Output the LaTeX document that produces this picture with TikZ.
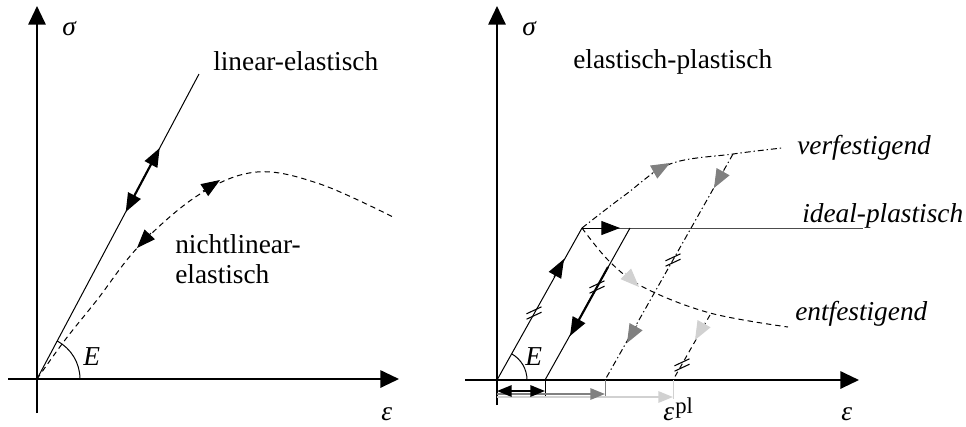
\documentclass[tikz,border=0pt]{standalone}
\usepackage{fontspec}
\setmainfont{Liberation Serif}
\usetikzlibrary{arrows.meta}
\definecolor{midgray}{gray}{0.5}
\definecolor{lightgray2}{gray}{0.82}
\definecolor{darkline}{gray}{0.3}
\begin{document}
\begin{tikzpicture}[x=0.75pt,y=-0.75pt,
  font=\fontsize{20.5}{24}\selectfont,
  axis/.style={line width=1.5pt,-{Triangle[length=14pt,width=13pt]}},
  curveline/.style={line width=0.75pt},
  dashline/.style={line width=0.75pt,dash pattern=on 4pt off 3pt},
  dotdash/.style={line width=0.75pt,dash pattern=on 4.5pt off 2.2pt on 1pt off 2.2pt},
  midarrow/.style={line width=0.75pt,solid,-{Triangle[length=14pt,width=10.5pt]}},
  grayarrow/.style={line width=0.75pt,solid,-{Triangle[length=14pt,width=11pt]}},
  lbl/.style={anchor=base west, inner sep=0pt},
  hatchmark/.pic={\draw[line width=0.8pt] (-7.5,0.8) -- (7.5,-6.2) (-7.5,6.2) -- (7.5,-0.8);}
]
\useasboundingbox (0,0) rectangle (966,426);

% ---------------- left panel ----------------
\coordinate (O1) at (37,379);
\coordinate (L1) at (199,74);
\draw[axis] (37,413) -- (37,6);
\draw[axis] (8,379) -- (399,379);
\draw[curveline] (O1) -- (L1);
\coordinate (LA) at (125.7,212);
\coordinate (LB) at (159.7,148);
\draw[line width=1.6pt,{Triangle[length=14pt,width=10.5pt]}-{Triangle[length=14pt,width=10.5pt]}] (LA) -- (LB);
\draw[dashline] plot[smooth,tension=0.6] coordinates {(37,379) (65,340) (97,300) (140,245) (200,194) (257,172) (320,184) (395,218)};
\coordinate (NA1) at (151,233);
\coordinate (NT1) at (137,248);
\draw[midarrow] (NA1) -- (NT1);
\coordinate (NA2) at (203,191);
\coordinate (NT2) at (220,180);
\draw[midarrow] (NA2) -- (NT2);
\draw[curveline] (80,379) arc[start angle=0,end angle=-62,radius=43];
\node[lbl] (sig1) at (62,35) {\textit{σ}};
\node[lbl] (eps1) at (381,420) {\textit{ε}};
\node[lbl] (E1) at (83,365) {\textit{E}};
\node[lbl] (tlin) at (213,70) {linear-elastisch};
\node[lbl] (tnl1) at (175,253) {nichtlinear-};
\node[lbl] (tnl2) at (175,283) {elastisch};

% ---------------- right panel ----------------
\coordinate (O2) at (497,380);
\coordinate (Y) at (582,228);
\draw[axis] (497,405) -- (497,6);
\draw[axis] (465,380) -- (859,380);
% elastic loading
\draw[curveline] (O2) -- (Y);
\coordinate (EA) at (554,277);
\coordinate (ET) at (564,259);
\draw[midarrow] (EA) -- (ET);
\pic at (534,313) {hatchmark};
\draw[curveline] (527,380) arc[start angle=0,end angle=-60.8,radius=30];
% ideal plastic
\draw[curveline,darkline] (Y) -- (863,228);
\coordinate (IT) at (620,228);
\draw[midarrow] (Y) -- (IT);
% unloading ideal
\coordinate (U1) at (630,228);
\coordinate (U1b) at (545,380);
\draw[curveline] (U1) -- (U1b);
\coordinate (UA) at (608,267);
\coordinate (UT) at (570,336);
\draw[line width=1.6pt,-{Triangle[length=14pt,width=10.5pt]}] (UA) -- (UT);
\pic at (597,287) {hatchmark};
% hardening
\coordinate (V) at (733,154);
\draw[dotdash] plot[smooth,tension=0.6] coordinates {(582,228) (625,195) (670,164) (733,154) (782,148)};
\coordinate (VA1) at (652,173);
\coordinate (VT1) at (670,163);
\draw[grayarrow,midgray] (VA1) -- (VT1);
\coordinate (V0) at (605,380);
\draw[dotdash] (V) -- (V0);
\coordinate (VA2) at (724,170);
\coordinate (VT2) at (714,188);
\draw[grayarrow,midgray] (VA2) -- (VT2);
\coordinate (VA3) at (637,325);
\coordinate (VT3) at (627,343);
\draw[grayarrow,midgray] (VA3) -- (VT3);
\pic at (673,260) {hatchmark};
% softening
\coordinate (S) at (710,315);
\draw[dashline] plot[smooth,tension=0.6] coordinates {(582,228) (610,262) (645,288) (710,313) (788,327)};
\coordinate (SA1) at (625,273);
\coordinate (ST1) at (639,287);
\draw[grayarrow,lightgray2] (SA1) -- (ST1);
\coordinate (S0) at (673,380);
\draw[dashline] (S) -- (S0);
\coordinate (SA2) at (705,322);
\coordinate (ST2) at (695,340);
\draw[grayarrow,lightgray2] (SA2) -- (ST2);
\pic at (682,365) {hatchmark};
% plastic strain arrows
\draw[line width=0.7pt] (545,380) -- (545,396);
\draw[line width=0.7pt,midgray] (605,380) -- (605,397);
\draw[line width=0.7pt,lightgray2] (673,380) -- (673,399);
\draw[line width=1.5pt,lightgray2,-{Triangle[length=11pt,width=8.5pt]}] (497,397) -- (673,397);
\draw[line width=1.5pt,midgray,-{Triangle[length=11pt,width=8.5pt]}] (497,394) -- (605,394);
\draw[line width=1.5pt,{Triangle[length=11pt,width=8.5pt]}-{Triangle[length=11pt,width=8.5pt]}] (497,391) -- (545,391);
\node[lbl] (sig2) at (522,35) {\textit{σ}};
\node[lbl] (eps2) at (841,420) {\textit{ε}};
\node[lbl] (epl) at (663,420) {\textit{ε}\kern1pt\raisebox{0.55ex}{\fontsize{17}{20}\selectfont pl}};
\node[lbl] (E2) at (525,365) {\textit{E}};
\node[lbl] (tep) at (573,68) {elastisch-plastisch};
\node[lbl] (tv) at (797,154) {\textit{verfestigend}};
\node[lbl] (ti) at (802,222) {\textit{ideal-plastisch}};
\node[lbl] (te) at (795,320) {\textit{entfestigend}};
\end{tikzpicture}
\end{document}
